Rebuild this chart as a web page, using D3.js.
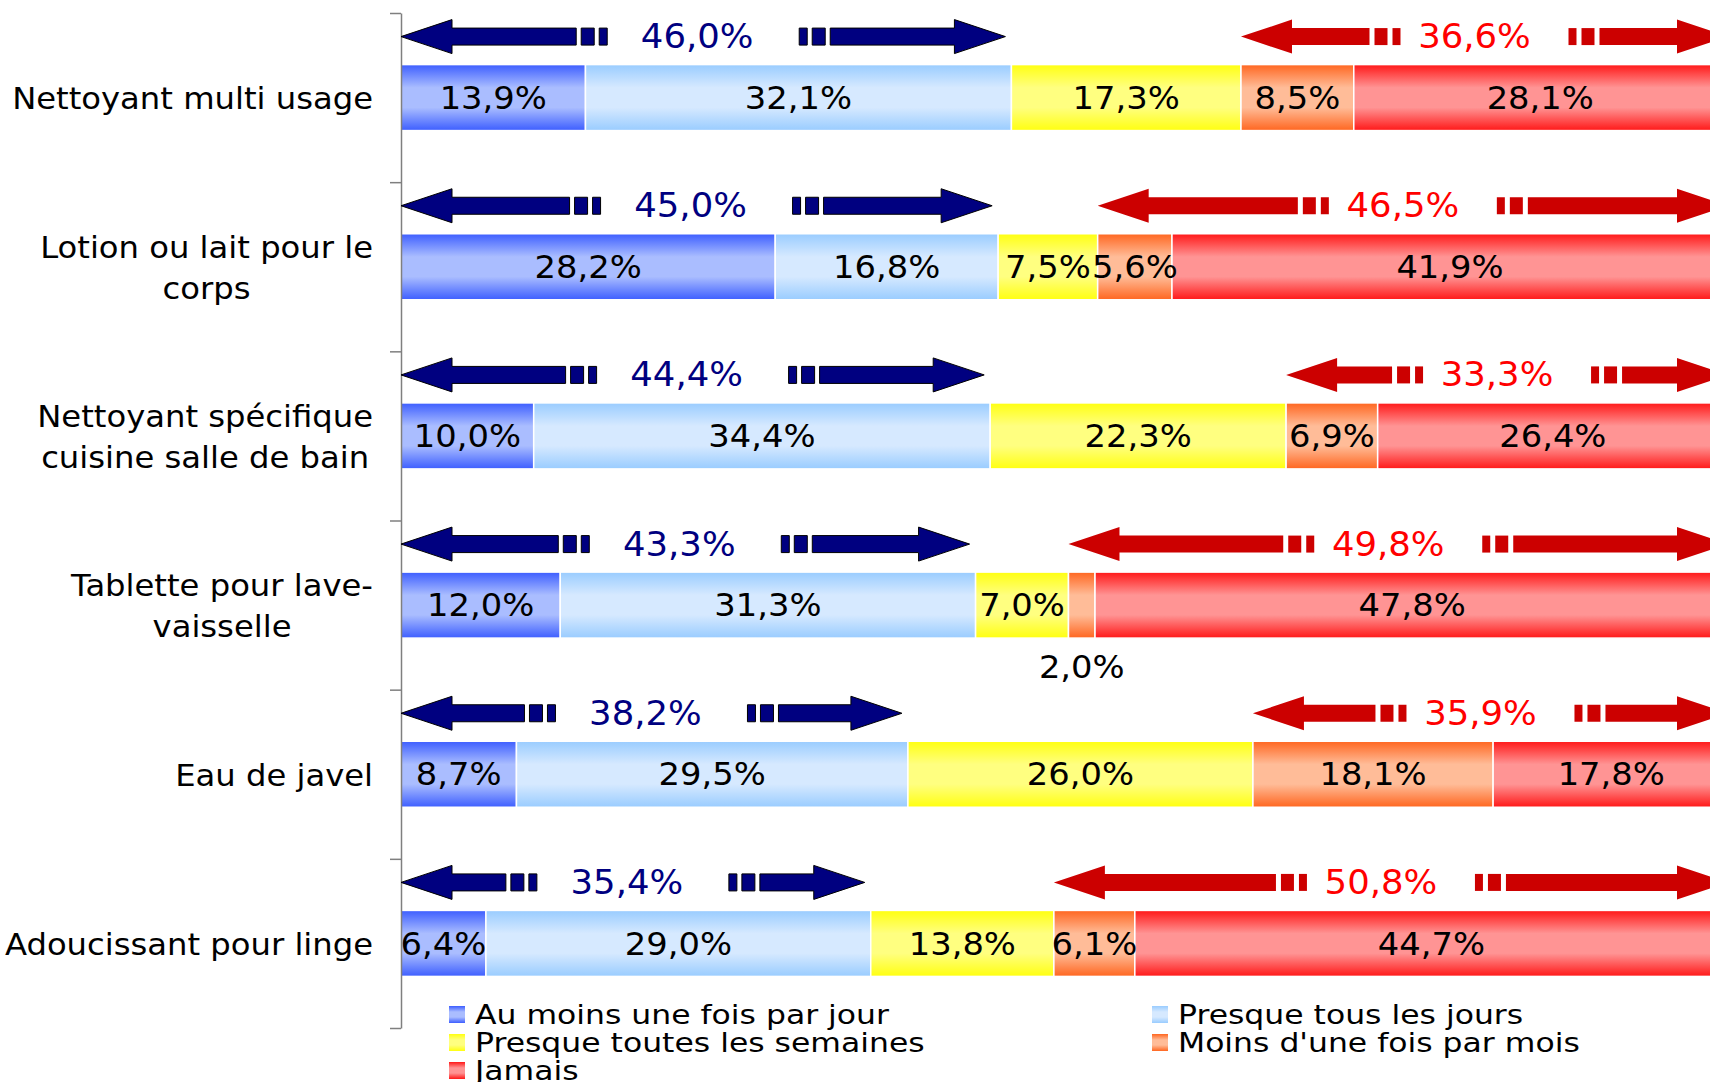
<!DOCTYPE html>
<html>
<head>
<meta charset="utf-8">
<script src="https://cdn.jsdelivr.net/npm/d3@7"></script>
<style>
  html, body { margin: 0; padding: 0; background: #fff; overflow: hidden; }
  svg { display: block; }
  text { font-family: "DejaVu Sans", Verdana, sans-serif; }
</style>
</head>
<body>
<svg id="chart" width="1710" height="1082"></svg>
<script>
// ---------------- DATA ----------------
const categoryLines = [
  ["Nettoyant multi usage"],
  ["Lotion ou lait pour le", "corps"],
  ["Nettoyant spécifique", "cuisine salle de bain"],
  ["Tablette pour lave-", "vaisselle"],
  ["Eau de javel"],
  ["Adoucissant pour linge"]
];
const seriesNames = [
  "Au moins une fois par jour",
  "Presque tous les jours",
  "Presque toutes les semaines",
  "Moins d'une fois par mois",
  "Jamais"
];
const dailyValues       = [13.9, 28.2, 10.0, 12.0, 8.7, 6.4];
const nearlyDailyValues = [32.1, 16.8, 34.4, 31.3, 29.5, 29.0];
const weeklyValues      = [17.3, 7.5, 22.3, 7.0, 26.0, 13.8];
const monthlyValues     = [8.5, 5.6, 6.9, 2.0, 18.1, 6.1];
const neverValues       = [28.1, 41.9, 26.4, 47.8, 17.8, 44.7];
const frequentTotals    = [46.0, 45.0, 44.4, 43.3, 38.2, 35.4];
const rareTotals        = [36.6, 46.5, 33.3, 49.8, 35.9, 50.8];

// ---------------- SETUP ----------------
const svg = d3.select("#chart");
const fmt = v => d3.format(".1f")(v).replace(".", ",") + "%";
const seriesValues = [dailyValues, nearlyDailyValues, weeklyValues, monthlyValues, neverValues];
const rows = categoryLines.map((c, i) => {
  const r = { idx: i };
  seriesNames.forEach((s, k) => r[s] = seriesValues[k][i]);
  return r;
});

const x = d3.scaleLinear().domain([0, 100]).range([401, 1728]);
const y = d3.scaleBand().domain(d3.range(rows.length)).range([13, 1028])
  .paddingInner(0.61).paddingOuter(0.305);
const yEdge = d3.scaleLinear().domain([0, rows.length]).range([13, 1028]);

// text drawn with a horizontal stretch (to mimic the wider original face)
function wideText(parent, tx, ty, str, size, sx, anchor, fill) {
  return parent.append("text")
    .attr("transform", `translate(${tx},${ty}) scale(${sx},1)`)
    .attr("text-anchor", anchor)
    .attr("dominant-baseline", "central")
    .attr("font-size", size)
    .attr("fill", fill)
    .text(str);
}

const colors = [
  { edge: "#3d5eff", mid: "#aabdff" },
  { edge: "#99ccff", mid: "#d6e9ff" },
  { edge: "#ffff10", mid: "#ffff80" },
  { edge: "#ff6620", mid: "#ffbc98" },
  { edge: "#ff1818", mid: "#ff9494" }
];

const defs = svg.append("defs");
colors.forEach((c, k) => {
  const g = defs.append("linearGradient").attr("id", "grad" + k)
    .attr("x1", 0).attr("y1", 0).attr("x2", 0).attr("y2", 1);
  g.append("stop").attr("offset", "0%").attr("stop-color", c.edge);
  g.append("stop").attr("offset", "35%").attr("stop-color", c.mid);
  g.append("stop").attr("offset", "65%").attr("stop-color", c.mid);
  g.append("stop").attr("offset", "100%").attr("stop-color", c.edge);
});

// ---------------- BARS ----------------
const stacked = d3.stack().keys(seriesNames)(rows);
const layers = svg.append("g").selectAll("g").data(stacked).join("g")
  .attr("fill", (d, k) => `url(#grad${k})`);
layers.selectAll("rect").data(d => d).join("rect")
  .attr("x", d => x(d[0]))
  .attr("y", d => y(d.data.idx))
  .attr("width", d => x(d[1]) - x(d[0]))
  .attr("height", y.bandwidth())
  .attr("stroke", "#ffffff")
  .attr("stroke-width", 1.5);

// data labels
const labelG = svg.append("g");
stacked.forEach((layer, k) => {
  layer.forEach(d => {
    const v = d[1] - d[0];
    const cx = (x(d[0]) + x(d[1])) / 2;
    const cy = y(d.data.idx) + y.bandwidth() / 2;
    const below = v < 3;
    wideText(labelG, cx, below ? cy + y.bandwidth() / 2 + 29 : cy,
      fmt(seriesValues[k][d.data.idx]), 32, 1.055, "middle", "#000");
  });
});

// ---------------- AXIS ----------------
const axis = svg.append("g").attr("transform", `translate(${x(0)},0)`)
  .call(d3.axisLeft(yEdge).ticks(rows.length).tickFormat("").tickSize(11).tickSizeOuter(0));
axis.selectAll("path, line").attr("stroke", "#7f7f7f").attr("stroke-width", 1.5);

// category labels: block right-aligned, lines centered in block
const labelRight = 373;
const lineH = 41;
const catSx = 1.04;
categoryLines.forEach((lines, i) => {
  const cy = y(i) + y.bandwidth() / 2 + 1;
  const g = svg.append("g");
  const texts = lines.map((ln, j) => wideText(g, 0,
    cy + (j - (lines.length - 1) / 2) * lineH, ln, 31, catSx, "middle", "#000"));
  const w = d3.max(texts, t => t.node().getComputedTextLength()) * catSx;
  texts.forEach((t, j) => t.attr("transform",
    `translate(${labelRight - w / 2},${cy + (j - (lines.length - 1) / 2) * lineH}) scale(${catSx},1)`));
});

// ---------------- ARROWS ----------------
const headLen = 51, headHalf = 17, shaftHalf = 8.5, lift = 61;
function arrowShapes(x0, x1, cy, half) {
  const cx = (x0 + x1) / 2;
  const shapes = [];
  const lEnd = cx - half - 8 - 5 - 13 - 5;
  shapes.push([[x0, cy], [x0 + headLen, cy - headHalf], [x0 + headLen, cy - shaftHalf], [lEnd, cy - shaftHalf],
               [lEnd, cy + shaftHalf], [x0 + headLen, cy + shaftHalf], [x0 + headLen, cy + headHalf]]);
  const rEnd = cx + half + 8 + 5 + 13 + 5;
  shapes.push([[x1, cy], [x1 - headLen, cy - headHalf], [x1 - headLen, cy - shaftHalf], [rEnd, cy - shaftHalf],
               [rEnd, cy + shaftHalf], [x1 - headLen, cy + shaftHalf], [x1 - headLen, cy + headHalf]]);
  const rect = (a, b) => [[a, cy - shaftHalf], [b, cy - shaftHalf], [b, cy + shaftHalf], [a, cy + shaftHalf]];
  shapes.push(rect(cx - half - 8 - 5 - 13, cx - half - 8 - 5));
  shapes.push(rect(cx - half - 8, cx - half));
  shapes.push(rect(cx + half, cx + half + 8));
  shapes.push(rect(cx + half + 8 + 5, cx + half + 8 + 5 + 13));
  return { shapes, cx };
}
const line = d3.line();
rows.forEach((r, i) => {
  const cy = y(i) + y.bandwidth() / 2 - lift;
  // frequent users arrow
  const a = arrowShapes(x(0), x(dailyValues[i] + nearlyDailyValues[i]) - 6, cy, 96);
  a.shapes.forEach(s => svg.append("path").attr("d", line(s) + "Z")
    .attr("fill", "#000080").attr("stroke", "#000000").attr("stroke-width", 1));
  wideText(svg, a.cx - 6, cy, fmt(frequentTotals[i]), 33, 1.075, "middle", "#000080");
  // rare users arrow
  const b = arrowShapes(x(dailyValues[i] + nearlyDailyValues[i] + weeklyValues[i]), x(100), cy, 84);
  b.shapes.forEach(s => svg.append("path").attr("d", line(s) + "Z")
    .attr("fill", "#cc0000"));
  wideText(svg, b.cx - 10, cy, fmt(rareTotals[i]), 33, 1.075, "middle", "#ff0000");
});

// ---------------- LEGEND ----------------
const legendPos = [[449, 1014], [1152, 1014], [449, 1042], [1152, 1042], [449, 1070]];
seriesNames.forEach((s, k) => {
  const [lx, ly] = legendPos[k];
  svg.append("rect").attr("x", lx).attr("y", ly - 8).attr("width", 16).attr("height", 17)
    .attr("fill", `url(#grad${k})`);
  wideText(svg, lx + 26, ly + 1, s, 26, 1.21, "start", "#000");
});
</script>
</body>
</html>
